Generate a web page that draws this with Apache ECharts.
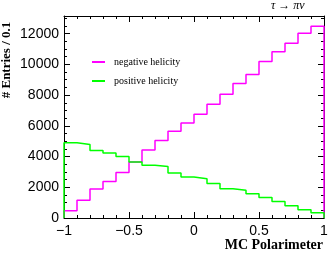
<!DOCTYPE html>
<html>
<head>
<meta charset="utf-8">
<script src="https://cdn.jsdelivr.net/npm/echarts@6/dist/echarts.min.js"></script>
<style>html,body{margin:0;padding:0;background:#fff}#c{width:332px;height:257px}</style>
</head>
<body>
<div id="c"></div>
<script>
// Bin edges (width 0.1)
var binEdges = [-1.0,-0.9,-0.8,-0.7,-0.6,-0.5,-0.4,-0.3,-0.2,-0.1,0.0,0.1,0.2,0.3,0.4,0.5,0.6,0.7,0.8,0.9,1.0];
// Entries per bin
var negativeHelicity = [480,1150,1890,2380,2970,3650,4430,5040,5640,6190,6750,7400,8050,8750,9340,10180,10830,11380,12030,12480];
var positiveHelicity = [4900,4790,4400,4230,4010,3650,3430,3360,2930,2670,2560,2240,1910,1800,1580,1340,1080,800,540,345];
var xTicks = [-1,-0.5,0,0.5,1];
var yTicks = [0,2000,4000,6000,8000,10000,12000];
var seriesNames = ['negative helicity','positive helicity'];

function histPoints(vals){
  var pts = [[binEdges[0],0]];
  for (var i=0;i<vals.length;i++) pts.push([binEdges[i],vals[i]]);
  pts.push([binEdges[binEdges.length-1],vals[vals.length-1]]);
  pts.push([binEdges[binEdges.length-1],0]);
  return pts;
}

var chart = echarts.init(document.getElementById('c'), null, {renderer:'canvas'});
var black = '#000';
var YMAX = 13150;
function fmtX(v){ return String(v).replace('-', '\u2212'); }

var option = {
  animation:false,
  backgroundColor:'#fff',
  grid:{left:64,right:8,top:16,bottom:39,containLabel:false},
  xAxis:[
    {type:'value',min:-1,max:1,interval:0.5,position:'bottom',
     axisLine:{show:true,onZero:false,lineStyle:{color:black,width:1}},
     axisTick:{show:true,inside:true,length:6,lineStyle:{color:black}},
     minorTick:{show:true,splitNumber:5,length:3,lineStyle:{color:black}},
     splitLine:{show:false},
     axisLabel:{show:true,margin:6,color:black,fontFamily:'Liberation Sans',fontSize:14,
       formatter:function(v){return fmtX(v);}}},
    {type:'value',min:-1,max:1,interval:0.5,position:'top',
     axisLine:{show:true,onZero:false,lineStyle:{color:black,width:1}},
     axisTick:{show:true,inside:true,length:6,lineStyle:{color:black}},
     minorTick:{show:true,splitNumber:5,length:3,lineStyle:{color:black}},
     splitLine:{show:false},axisLabel:{show:false}}
  ],
  yAxis:[
    {type:'value',min:0,max:YMAX,interval:2000,position:'left',
     axisLine:{show:true,onZero:false,lineStyle:{color:black,width:1}},
     axisTick:{show:true,inside:true,length:6,lineStyle:{color:black}},
     splitLine:{show:false},
     axisLabel:{show:true,margin:5,color:black,fontFamily:'Liberation Sans',fontSize:14,showMaxLabel:false,
       formatter:function(v){return yTicks.indexOf(v)>=0?String(v):'';}}},
    {type:'value',min:0,max:YMAX,interval:500,position:'left',
     axisLine:{show:false,onZero:false},
     axisTick:{show:true,inside:true,length:3,lineStyle:{color:black}},
     splitLine:{show:false},axisLabel:{show:false}},
    {type:'value',min:0,max:YMAX,interval:2000,position:'right',
     axisLine:{show:true,onZero:false,lineStyle:{color:black,width:1}},
     axisTick:{show:true,inside:true,length:6,lineStyle:{color:black}},
     splitLine:{show:false},axisLabel:{show:false}},
    {type:'value',min:0,max:YMAX,interval:500,position:'right',
     axisLine:{show:false,onZero:false},
     axisTick:{show:true,inside:true,length:3,lineStyle:{color:black}},
     splitLine:{show:false},axisLabel:{show:false}}
  ],
  legend:{
    orient:'vertical',left:87,top:52,itemWidth:13,itemHeight:2,itemGap:9,icon:'rect',
    data:seriesNames,
    textStyle:{fontFamily:'Liberation Serif',fontSize:10,color:black,padding:[0,0,0,4]}
  },
  graphic:[
    {type:'text',left:271,top:0,style:{text:'\u03C4 \u2192 \u03C0\u03BD',fontFamily:'Liberation Serif',fontStyle:'italic',fontSize:12,fill:black}},
    {type:'text',x:7,y:60,rotation:Math.PI/2,style:{text:'# Entries / 0.1',fontFamily:'Liberation Serif',fontWeight:'bold',fontSize:13,fill:black,align:'center',verticalAlign:'middle'}},
    {type:'text',x:323,y:245,style:{text:'MC Polarimeter',fontFamily:'Liberation Serif',fontWeight:'bold',fontSize:14,fill:black,align:'right',verticalAlign:'middle'}}
  ],
  series:[
    {name:seriesNames[0],type:'line',step:'end',xAxisIndex:0,yAxisIndex:0,showSymbol:false,clip:false,
     data:histPoints(negativeHelicity),color:'#ff00ff',lineStyle:{width:1.5,color:'#ff00ff'}},
    {name:seriesNames[1],type:'line',step:'end',xAxisIndex:0,yAxisIndex:0,showSymbol:false,clip:false,
     data:histPoints(positiveHelicity),color:'#00ff00',lineStyle:{width:1.5,color:'#00ff00'}}
  ]
};
chart.setOption(option);
</script>
</body>
</html>
